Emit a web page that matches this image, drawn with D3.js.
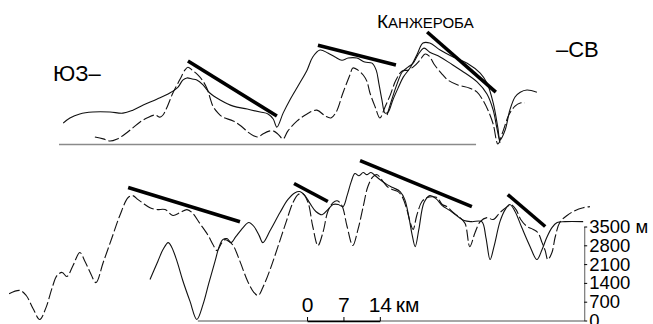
<!DOCTYPE html>
<html>
<head>
<meta charset="utf-8">
<script src="https://cdnjs.cloudflare.com/ajax/libs/d3/7.8.5/d3.min.js"></script>
<style>
  body { margin: 0; background: #fff; }
  svg { display: block; font-family: "Liberation Sans", Arial, sans-serif; }
</style>
</head>
<body>
<script>
// distance along profile (km), height (m)

/////////////// upper profile ///////////////
const topUpper = [[10.8,780],[12.1,970],[14.0,1120],[16.5,1190],[19.8,1190],[22.3,1150],[24.2,1260],[26.2,1450],[28.8,1670],[31.3,1900],[32.9,2120],[33.8,2380],[34.6,2460],[35.6,2420],[36.5,2380],[37.7,2200],[39.0,1900],[41.0,1640],[43.5,1410],[46.2,1300],[48.7,1190],[50.2,1120],[51.2,930],[51.9,630],[53.1,1150],[54.4,1640],[56.3,2270],[57.7,2750],[58.8,3240],[60.2,3500],[61.7,3390],[63.1,3240],[64.4,3120],[65.6,3200],[67.3,3200],[68.8,3050],[70.2,3010],[71.0,2750],[71.5,2270],[72.1,1640],[72.7,1150],[73.3,1190],[74.2,1640],[75.2,2080],[76.2,2490],[77.5,2830],[78.8,3310],[80.0,3760],[81.3,3760],[83.3,3500],[85.8,3240],[88.5,3010],[91.0,2640],[92.3,2270],[93.5,1530],[94.4,600],[94.8,150],[95.8,520],[96.7,1260],[97.7,1750],[98.7,1930],[100.0,2010],[101.9,1930]];

const topInner = [[73.1,1080],[73.8,1530],[75.0,2230],[76.0,2680],[77.1,2860],[78.1,3010],[79.0,3310],[80.2,3570],[81.3,3420],[83.3,3240],[85.2,3010],[87.5,2720],[90.4,2310],[92.3,1860],[93.5,1260],[94.2,600],[94.8,40]];

const topDash = [[16.9,260],[18.5,190],[19.8,110],[21.2,190],[22.7,370],[24.2,600],[25.6,820],[26.9,970],[28.5,1080],[29.4,1000],[30.0,1080],[30.8,1380],[31.9,1900],[33.3,2420],[34.2,2750],[34.8,2860],[35.6,2750],[36.7,2570],[37.7,2340],[38.5,2050],[39.0,1750],[39.6,1410],[40.6,1150],[41.5,1000],[43.5,860],[45.0,670],[46.3,450],[47.5,300],[48.3,260],[49.2,370],[50.4,480],[51.3,480],[52.1,370],[53.1,190],[54.0,480],[55.8,860],[57.7,1120],[59.6,1260],[61.2,1040],[62.3,970],[63.3,1190],[64.6,1900],[66.0,2600],[66.5,2830],[67.5,2750],[68.5,2570],[69.2,2340],[69.8,1900],[70.8,1380],[71.7,970],[72.7,1380],[73.7,1820],[74.8,2380],[76.0,2720],[77.1,2750],[78.3,2900],[79.4,3120],[80.4,3350],[81.2,3270],[82.1,2980],[83.5,2640],[84.8,2380],[86.7,2200],[89.0,2080],[90.4,1930],[91.5,1640],[92.5,1260],[93.5,740],[94.4,0],[95.4,480],[96.5,1080],[97.7,1410],[98.7,1530],[99.6,1530]];

// thick trend lines: [km0, m0, km1, m1]
const topTrends = [[34.8,3090,51.9,1040],[59.8,3680,74.8,2940],[80.8,4170,94.0,1930]];
const topBase = [10.0, 90.2];

/////////////// lower profile ///////////////
const lowDash = [[0.4,1000],[2.5,1120],[3.7,930],[5.0,450],[6.3,40],[7.5,480],[8.7,1230],[9.6,1670],[10.6,1790],[11.5,1640],[12.7,2050],[14.0,2530],[15.0,2200],[16.0,1790],[17.1,1410],[18.5,2160],[20.2,3090],[21.7,3910],[23.3,4580],[24.2,4650],[25.2,4500],[26.0,4390],[27.5,4200],[28.8,4130],[30.4,4130],[31.9,3910],[33.3,4020],[34.6,4130],[35.6,4020],[37.1,3610],[38.7,3160],[39.6,2830],[40.4,2600],[41.2,2860],[41.9,3010],[42.7,2940],[43.5,2790],[44.8,2200],[46.3,1450],[47.5,1040],[48.3,930],[49.2,1230],[50.6,1900],[52.1,2750],[53.7,3680],[55.0,4390],[56.0,4690],[56.9,4720],[57.9,4390],[58.8,3500],[59.8,2790],[60.8,3310],[61.7,4060],[62.7,4390],[63.5,4460],[64.4,4280],[65.4,3500],[66.5,2790],[67.5,3390],[68.5,4240],[69.4,4990],[70.4,5360],[71.2,5430],[71.9,5280],[73.1,4990],[74.2,4870],[75.2,4800],[76.0,4610],[76.9,4130],[77.5,3680],[78.1,3390],[78.8,3910],[79.8,4430],[80.8,4580],[81.7,4610],[82.7,4580],[83.7,4320],[84.6,4240],[85.8,4020],[87.1,3830],[88.1,3610],[89.0,2750],[90.0,3270],[91.0,3680],[92.3,3830],[93.5,3760],[94.8,4020],[96.2,4240],[96.9,4320],[97.9,4130],[98.8,3760],[100.0,3500],[101.2,3390],[102.1,3270],[102.9,2900],[103.5,2600],[104.0,2270],[104.8,2530],[105.4,3090],[106.3,3650],[107.7,3910],[109.2,4090],[110.8,4200],[112.1,4240]];

const lowSolid = [[27.5,1530],[29.0,2200],[30.0,2640],[31.0,2900],[31.7,2720],[32.7,2200],[33.8,1490],[35.2,710],[36.5,40],[37.7,600],[38.8,1380],[40.0,2200],[40.8,2750],[41.5,3010],[42.3,3050],[43.1,2900],[44.0,3120],[45.4,3460],[46.5,3650],[47.5,3500],[48.5,3160],[49.2,2900],[50.6,3350],[52.5,4020],[54.0,4500],[55.4,4760],[56.3,4800],[57.3,4650],[58.3,4350],[59.4,4060],[60.6,3940],[61.7,4130],[62.7,4320],[63.7,4320],[64.6,4240],[65.4,4650],[66.2,5170],[66.9,5470],[67.7,5390],[68.5,5510],[69.2,5430],[70.0,5510],[71.0,5360],[71.7,5250],[73.1,5060],[74.2,4950],[75.6,4800],[76.5,4500],[77.3,3830],[77.9,3200],[78.5,2750],[79.2,3390],[80.2,4390],[81.3,4650],[82.5,4540],[83.7,4280],[85.2,4090],[86.7,3870],[87.9,3720],[89.4,3680],[91.3,3680],[92.1,3090],[92.9,2270],[93.7,2790],[94.8,3680],[95.8,4130],[96.7,4320],[97.7,4060],[99.0,3460],[100.6,2750],[101.9,2270],[102.9,2640],[103.8,3090],[104.8,3460],[105.8,3650],[107.3,3680],[110.8,3680]];

const lowTrends = [[23.3,4950,44.8,3680],[55.2,5100,61.7,4430],[67.9,5950,89.4,4240],[96.3,4690,103.5,3500]];
const lowBase = [36.7, 111.0];

const elevTicks = [0, 700, 1400, 2100, 2800, 3500];
const barTicks = [0, 7, 14];
const barStart = 57.7;   // km where scale bar starts
const axisKm = 111.0;

let w = 653, h = 324;

let svg = d3.select("body").append("svg")
  .attr("width", w)
  .attr("height", h);

svg.append("rect").attr("width", w).attr("height", h).attr("fill", "#fff");

let x = d3.scaleLinear().domain([0, 100]).range([7, 527]);
let yTop = d3.scaleLinear().domain([0, 3500]).range([144, 50]);
let yLow = d3.scaleLinear().domain([0, 3500]).range([320.5, 226.5]);

function drawPanel(y, base, series, trends) {
  // ground line
  svg.append("line")
    .attr("x1", x(base[0])).attr("x2", x(base[1]))
    .attr("y1", y(0) + 0.5).attr("y2", y(0) + 0.5)
    .attr("stroke", "#8a8a8a")
    .attr("stroke-width", 1.5);

  series.forEach(function(s) {
    let line = d3.line()
      .x(d => x(d[0]))
      .y(d => y(d[1]))
      .curve(d3.curveCatmullRom.alpha(0.5));
    svg.append("path")
      .attr("d", line(s.data))
      .attr("fill", "none")
      .attr("stroke", "#111")
      .attr("stroke-width", 1.1)
      .attr("stroke-dasharray", s.dash ? "11,3" : null);
  });

  svg.selectAll(null)
    .data(trends)
    .enter()
    .append("line")
    .attr("x1", d => x(d[0])).attr("y1", d => y(d[1]))
    .attr("x2", d => x(d[2])).attr("y2", d => y(d[3]))
    .attr("stroke", "#000")
    .attr("stroke-width", 3.6);
}

drawPanel(yTop, topBase, [
  {data: topUpper, dash: false},
  {data: topInner, dash: false},
  {data: topDash, dash: true}
], topTrends);

drawPanel(yLow, lowBase, [
  {data: lowDash, dash: true},
  {data: lowSolid, dash: false}
], lowTrends);

/////////////// height axis ///////////////
let yAxis = d3.axisRight(yLow)
  .tickValues(elevTicks)
  .tickSize(3)
  .tickSizeOuter(0)
  .tickPadding(2)
  .tickFormat(d => d === 3500 ? "3500 м" : d);

let gy = svg.append("g")
  .attr("transform", "translate(" + x(axisKm) + ",0)")
  .call(yAxis);
gy.select(".domain").attr("stroke", "#777").attr("stroke-width", 1.2);
gy.selectAll("text")
  .attr("font-size", 18.5)
  .attr("font-family", "'Liberation Sans', Arial, sans-serif")
  .attr("fill", "#000");

/////////////// scale bar ///////////////
let barScale = d3.scaleLinear()
  .domain([0, 14])
  .range([x(barStart), x(barStart + 14)]);

let barAxis = d3.axisTop(barScale)
  .tickValues(barTicks)
  .tickSize(4)
  .tickSizeOuter(0)
  .tickPadding(5);

let gb = svg.append("g")
  .attr("transform", "translate(0," + (yLow(0) + 0.5) + ")")
  .call(barAxis);
gb.select(".domain").attr("stroke", "#000").attr("stroke-width", 1.3);
gb.selectAll("text")
  .attr("font-size", 21)
  .attr("font-family", "'Liberation Sans', Arial, sans-serif")
  .attr("fill", "#000");

svg.append("text")
  .attr("x", x(barStart + 14) + 16)
  .attr("y", yLow(0) - 8.5)
  .attr("font-size", 21)
  .text("км");

/////////////// labels ///////////////
svg.append("text")
  .attr("x", 53).attr("y", 81)
  .attr("font-size", 22)
  .text("ЮЗ–");

svg.append("text")
  .attr("x", 556).attr("y", 57)
  .attr("font-size", 22)
  .text("–СВ");

let kt = svg.append("text")
  .attr("x", 377).attr("y", 28);
kt.append("tspan").attr("font-size", 19).text("К");
kt.append("tspan").attr("font-size", 15).text("АНЖЕРОБА");
</script>
</body>
</html>
